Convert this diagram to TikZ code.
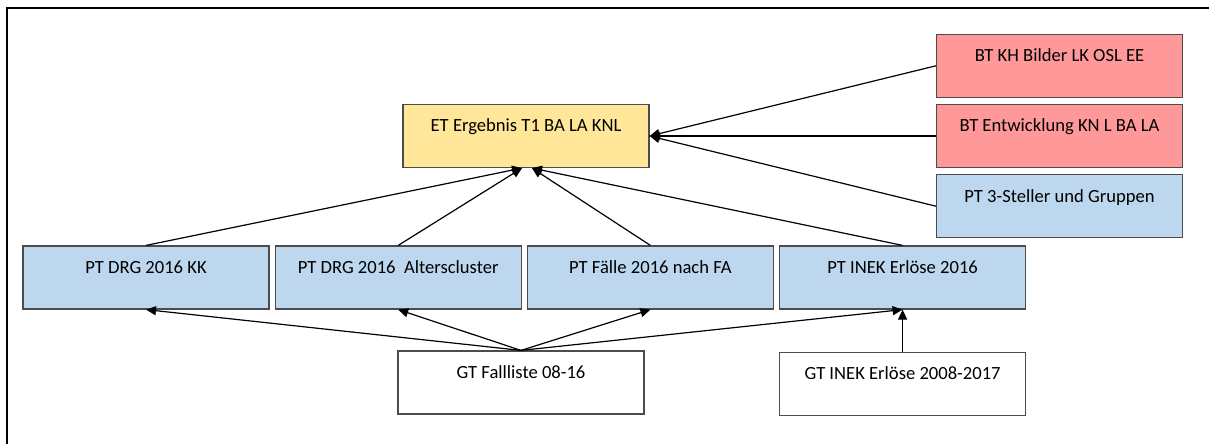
\documentclass[tikz,border=0pt]{standalone}
\usepackage{fontspec}
\setmainfont{Carlito}
\usetikzlibrary{positioning,arrows.meta}
\definecolor{etyellow}{RGB}{255,230,153}
\definecolor{btred}{RGB}{255,153,153}
\definecolor{ptblue}{RGB}{189,215,238}
\tikzset{>={Triangle[length=5pt,width=4.5pt]},
  box/.style={draw=black!70,line width=0.6pt,minimum width=123pt,minimum height=31.5pt,
    text height=7pt,text depth=11pt,inner sep=0pt,font=\fontsize{9.3}{11}\selectfont},
  ettab/.style={box,fill=etyellow},
  bttab/.style={box,fill=btred},
  pttab/.style={box,fill=ptblue},
  gttab/.style={box,fill=white},
  link/.style={->,line width=0.6pt}}

\begin{document}
\begin{tikzpicture}[x=0.5pt,y=-0.5pt]
              \useasboundingbox (0,0) rectangle (1209,444);
              \draw[line width=1.1pt] (7,470) -- (7,8) -- (1240,8);

              \node[ettab] (erg) at (526,136) {ET Ergebnis T1 BA LA KNL};
              \node[bttab] (entw) at (1059.5,136) {BT Entwicklung KN L BA LA};
              \node[bttab] (bilder) [above=3pt of entw] {BT KH Bilder LK OSL EE};
              \node[pttab] (steller) [below=3pt of entw] {PT 3-Steller und Gruppen};

              \node[pttab] (kk) at (146,277.5) {PT DRG 2016 KK};
              \node[pttab] (alter) [right=2.5pt of kk] {PT DRG 2016\ \ Alterscluster};
              \node[pttab] (faelle) [right=2.5pt of alter] {PT Fälle 2016 nach FA};
              \node[pttab] (inek) [right=2.5pt of faelle] {PT INEK Erlöse 2016};

              \node[gttab] (fall) at (521,382.5) {GT Fallliste 08-16};
              \node[gttab] (gtinek) [below=21pt of inek] {GT INEK Erlöse 2008-2017};

              \path[link]
              (bilder.west) edge (erg.east)
              (entw.west) edge (erg.east)
              (steller.west) edge (erg.east)
              (kk.north) edge ([xshift=-2pt]erg.south)
              (alter.north) edge ([xshift=-2pt]erg.south)
              (faelle.north) edge ([xshift=3pt]erg.south)
              (inek.north) edge ([xshift=3pt]erg.south)
              (gtinek) edge (inek)
              ;

              \foreach \t in {kk,alter,faelle,inek}
                \draw[link] (fall.north) -- (\t.south);
            \end{tikzpicture}
\end{document}
